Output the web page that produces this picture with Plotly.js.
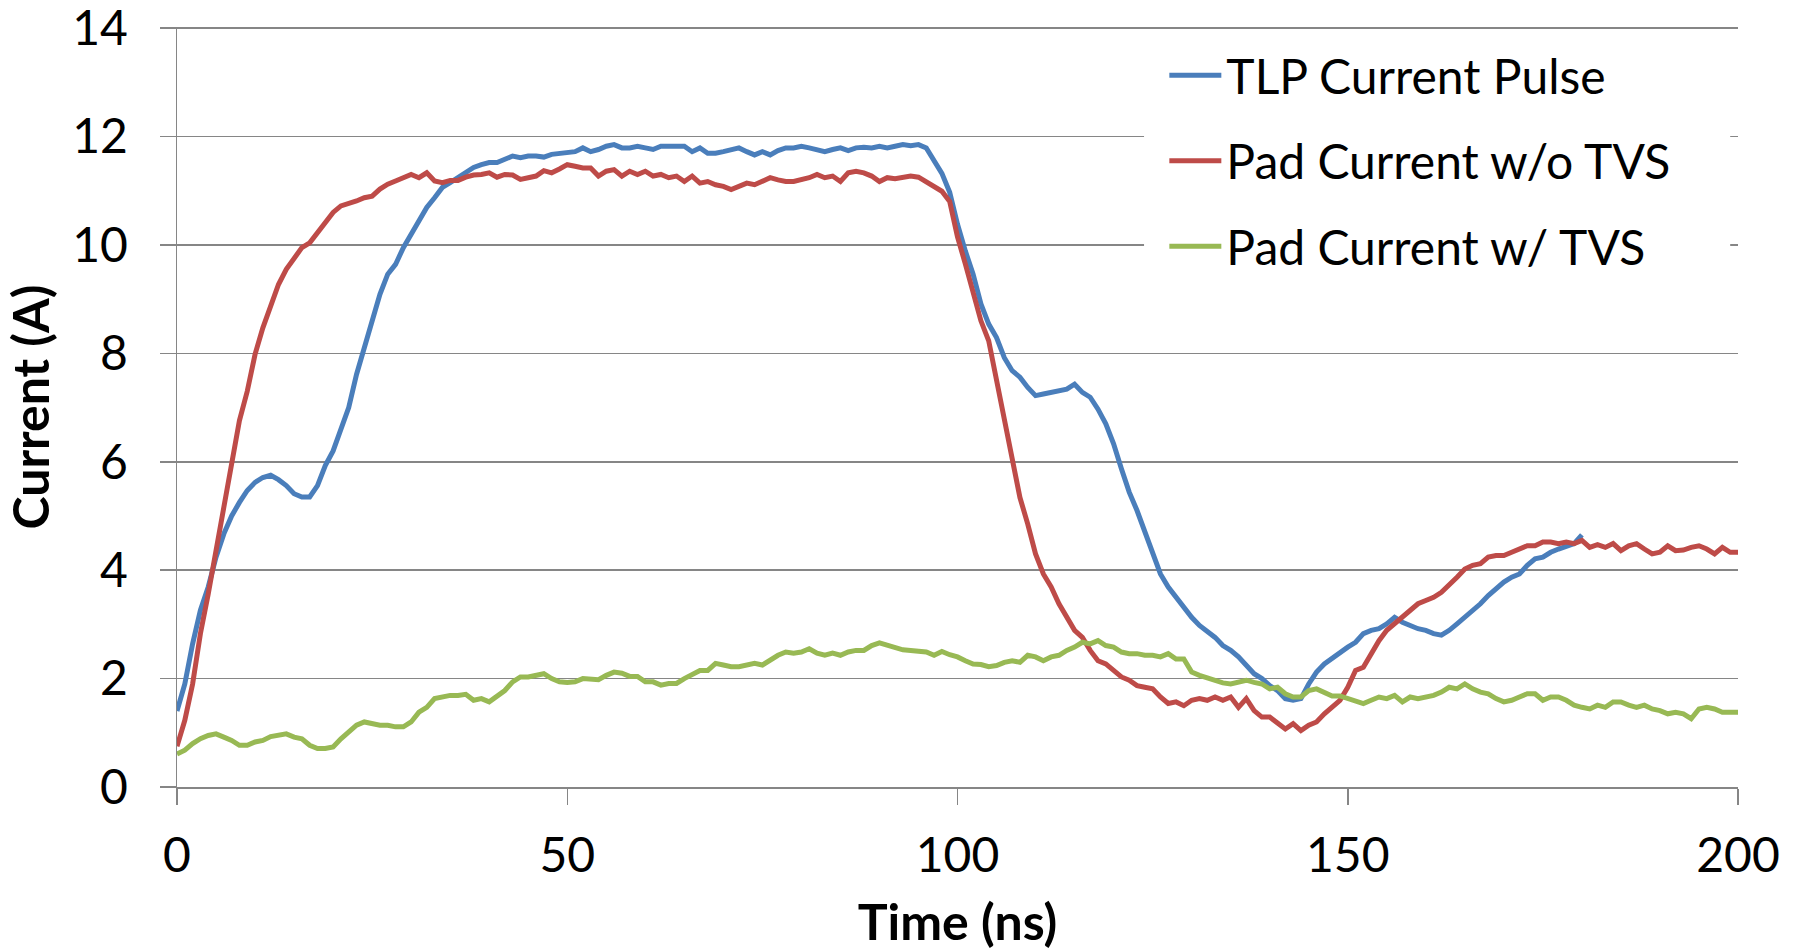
<!DOCTYPE html>
<html>
<head>
<meta charset="utf-8">
<script src="https://cdn.plot.ly/plotly-3.0.1.min.js"></script>
<style>html,body{margin:0;padding:0;background:#fff;}#chart{width:1793px;height:951px;}</style>
</head>
<body>
<div id="chart"></div>
<script>
var timeNs = [0,1,2,3,4,5,6,7,8,9,10,11,12,13,14,15,16,17,18,19,20,21,22,23,24,25,26,27,28,29,30,31,32,33,34,35,36,37,38,39,40,41,42,43,44,45,46,47,48,49,50,51,52,53,54,55,56,57,58,59,60,61,62,63,64,65,66,67,68,69,70,71,72,73,74,75,76,77,78,79,80,81,82,83,84,85,86,87,88,89,90,91,92,93,94,95,96,97,98,99,100,101,102,103,104,105,106,107,108,109,110,111,112,113,114,115,116,117,118,119,120,121,122,123,124,125,126,127,128,129,130,131,132,133,134,135,136,137,138,139,140,141,142,143,144,145,146,147,148,149,150,151,152,153,154,155,156,157,158,159,160,161,162,163,164,165,166,167,168,169,170,171,172,173,174,175,176,177,178,179,180,181,182,183,184,185,186,187,188,189,190,191,192,193,194,195,196,197,198,199,200];

var tlpPulse = [1.4,1.9,2.64,3.26,3.69,4.24,4.67,5.0,5.25,5.47,5.62,5.71,5.75,5.67,5.56,5.41,5.35,5.35,5.56,5.93,6.2,6.63,7.0,7.61,8.1,8.6,9.09,9.46,9.64,9.95,10.2,10.44,10.69,10.87,11.06,11.15,11.24,11.33,11.43,11.48,11.52,11.52,11.58,11.64,11.61,11.64,11.64,11.62,11.67,11.69,11.7,
11.72,11.79,11.72,11.76,11.82,11.85,11.79,11.79,11.82,11.79,11.76,11.82,11.82,11.8,11.82,11.72,11.79,11.69,11.69,11.72,11.76,11.79,11.72,11.66,11.72,11.66,11.74,11.79,11.79,11.82,11.79,11.76,11.72,11.76,11.79,11.74,11.79,11.8,11.79,11.82,11.79,11.82,11.85,11.83,11.85,11.79,11.57,11.32,10.97,10.38,
9.89,9.46,8.91,8.54,8.29,7.92,7.68,7.56,7.37,7.22,7.25,7.28,7.31,7.34,7.43,7.28,7.19,6.97,6.7,6.33,5.87,5.44,5.1,4.73,4.3,3.93,3.69,3.5,3.32,3.13,2.98,2.86,2.76,2.61,2.52,2.4,2.24,2.09,2.0,1.87,1.78,1.63,1.6,1.63,1.9,2.12,2.27,2.38,2.47,2.58,2.67,2.83,2.89,2.92,3.01,3.13,3.04,2.98,2.92,2.89,2.83,2.8,2.89,3.01,3.13,3.26,3.38,3.53,3.66,3.78,3.87,3.93,4.09,4.21,4.24,4.33,4.39,4.45,4.49,4.65];

var padNoTvs = [0.75,1.23,1.9,2.83,3.56,4.36,5.1,5.9,6.76,7.3,7.98,8.47,8.9,9.27,9.55,9.77,9.95,10.04,10.23,10.44,10.6,10.72,10.76,10.81,10.87,10.9,11.03,11.12,11.18,11.24,11.3,11.24,11.33,11.18,11.15,11.19,11.19,11.25,11.29,11.3,11.33,11.25,11.3,11.29,11.21,11.24,11.27,11.37,11.33,11.4,11.48,
11.45,11.42,11.42,11.27,11.36,11.39,11.27,11.36,11.3,11.36,11.27,11.3,11.24,11.27,11.17,11.27,11.14,11.17,11.11,11.08,11.02,11.08,11.14,11.11,11.17,11.24,11.2,11.17,11.17,11.2,11.24,11.3,11.24,11.27,11.17,11.33,11.36,11.33,11.27,11.17,11.24,11.22,11.24,11.27,11.25,11.17,11.08,10.99,10.8,10.15,
9.65,9.09,8.6,8.23,7.49,6.7,6.05,5.34,4.85,4.3,3.93,3.69,3.38,3.13,2.89,2.76,2.52,2.33,2.27,2.15,2.03,1.97,1.87,1.84,1.81,1.66,1.54,1.57,1.5,1.6,1.63,1.6,1.66,1.6,1.66,1.47,1.63,1.41,1.29,1.29,1.17,1.07,1.17,1.04,1.14,1.2,1.35,1.47,1.6,1.84,2.15,2.21,2.46,2.7,2.89,3.01,3.16,3.26,3.38,3.44,3.5,3.59,3.72,3.87,4.02,4.09,4.12,4.24,4.27,4.27,4.33,4.39,4.45,4.45,4.52,4.52,4.49,4.52,4.49,4.55,4.42,4.47,4.42,4.49,4.36,4.45,4.49,4.39,4.3,4.33,4.45,4.36,4.37,4.42,4.45,4.39,4.3,4.42,4.33,4.33];

var padWithTvs = [0.61,0.68,0.8,0.89,0.95,0.98,0.92,0.86,0.77,0.77,0.83,0.86,0.93,0.95,0.98,0.92,0.89,0.77,0.71,0.71,0.74,0.89,1.01,1.14,1.2,1.17,1.14,1.14,1.11,1.11,1.2,1.38,1.47,1.63,1.67,1.69,1.69,1.71,1.6,1.63,1.57,1.69,1.78,1.94,2.03,2.03,2.06,2.09,2.0,1.94,1.93,
1.94,2.0,1.99,1.98,2.06,2.12,2.1,2.04,2.04,1.94,1.94,1.88,1.91,1.91,2.0,2.08,2.15,2.15,2.28,2.25,2.22,2.22,2.25,2.28,2.25,2.35,2.43,2.49,2.47,2.49,2.55,2.47,2.43,2.47,2.43,2.49,2.52,2.52,2.61,2.66,2.61,2.58,2.53,2.52,2.51,2.49,2.43,2.5,2.44,2.4,
2.33,2.27,2.26,2.22,2.24,2.3,2.33,2.3,2.43,2.4,2.33,2.4,2.43,2.52,2.58,2.67,2.64,2.7,2.61,2.58,2.49,2.46,2.46,2.43,2.43,2.4,2.46,2.36,2.36,2.12,2.06,2.01,1.98,1.92,1.9,1.93,1.97,1.93,1.9,1.81,1.84,1.72,1.66,1.66,1.78,1.81,1.75,1.68,1.68,1.63,1.6,1.54,1.6,1.66,1.63,1.69,1.57,1.66,1.63,1.66,1.69,1.75,1.84,1.81,1.9,1.81,1.75,1.72,1.63,1.57,1.6,1.66,1.72,1.72,1.6,1.66,1.66,1.6,1.51,1.47,1.44,1.51,1.47,1.57,1.57,1.51,1.47,1.51,1.44,1.41,1.35,1.38,1.35,1.26,1.44,1.47,1.44,1.38,1.38,1.38];

var seriesNames = ['TLP Current Pulse', 'Pad Current w/o TVS', 'Pad Current w/ TVS'];
var xTicks = [0, 50, 100, 150, 200];
var yTicks = [0, 2, 4, 6, 8, 10, 12, 14];

var FONT = 'Lato, "Open Sans", sans-serif';
var colors = ['#4A7EBB', '#BE4B48', '#98B954'];
var ys = [tlpPulse, padNoTvs, padWithTvs];

var traces = ys.map(function (y, i) {
  return {
    x: timeNs.slice(0, y.length),
    y: y,
    name: seriesNames[i],
    legendgroup: 'g' + i,
    type: 'scatter',
    mode: 'lines',
    line: {color: colors[i], width: 5}
  };
});

var axisCommon = {
  ticks: 'outside',
  ticklen: 16,
  tickwidth: 1.5,
  tickcolor: '#868686',
  showline: true,
  linecolor: '#868686',
  linewidth: 1.5,
  zeroline: false,
  tickfont: {family: FONT, size: 48, color: '#000'},
  ticklabeloverflow: 'allow'
};

var layout = {
  width: 1793,
  height: 951,
  margin: {l: 177, r: 55, t: 27, b: 164},
  paper_bgcolor: '#fff',
  plot_bgcolor: '#fff',
  showlegend: true,
  xaxis: Object.assign({}, axisCommon, {
    range: [0, 200],
    tickvals: xTicks,
    ticktext: xTicks.map(String),
    showgrid: false,
    ticklabelstandoff: 10,
    title: {text: '<b>Time (ns)</b>', font: {family: FONT, size: 50, color: '#000'}, standoff: 28}
  }),
  yaxis: Object.assign({}, axisCommon, {
    range: [0, 14.02],
    tickvals: yTicks,
    ticktext: yTicks.map(String),
    showgrid: true,
    gridcolor: '#868686',
    gridwidth: 1.5,
    ticklabelstandoff: 22,
    title: {text: '<b>Current (A)</b>', font: {family: FONT, size: 50, color: '#000'}, standoff: 9}
  }),
  shapes: [{
    type: 'rect', xref: 'paper', yref: 'paper', layer: 'above',
    x0: 0.6195, x1: 0.995, y0: 0.68, y1: 0.97,
    fillcolor: '#fff', line: {width: 0}
  }],
  legend: {
    x: 0.6325,
    y: 0.986,
    xanchor: 'left',
    yanchor: 'top',
    bgcolor: 'rgba(255,255,255,0)',
    borderwidth: 0,
    font: {family: FONT, size: 48, color: '#000'},
    traceorder: 'grouped',
    tracegroupgap: 20,
    itemwidth: 52
  }
};

Plotly.newPlot('chart', traces, layout, {displayModeBar: false, staticPlot: true});
</script>
</body>
</html>
